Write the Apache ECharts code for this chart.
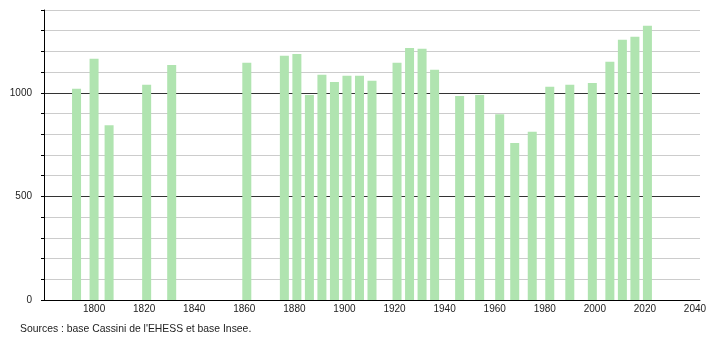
<!DOCTYPE html>
<html>
<head>
<meta charset="utf-8">
<script src="https://cdn.jsdelivr.net/npm/echarts@6/dist/echarts.min.js"></script>
<style>
html,body{margin:0;padding:0;background:#fff;}
#chart{width:710px;height:340px;}
</style>
</head>
<body>
<div id="chart"></div>
<script>
const years = [1793, 1800, 1806, 1821, 1831, 1861, 1876, 1881, 1886, 1891, 1896, 1901, 1906, 1911, 1921, 1926, 1931, 1936, 1946, 1954, 1962, 1968, 1975, 1982, 1990, 1999, 2006, 2011, 2016, 2021];
const population = [1020, 1165, 844, 1039, 1135, 1145, 1179, 1188, 990, 1087, 1053, 1082, 1082, 1058, 1145, 1217, 1213, 1111, 985, 990, 897, 758, 812, 1029, 1039, 1048, 1150, 1256, 1271, 1324];
const yLabels = [0, 500, 1000];
const xLabels = [1800, 1820, 1840, 1860, 1880, 1900, 1920, 1940, 1960, 1980, 2000, 2020, 2040];
const sourceText = "Sources : base Cassini de l'EHESS et base Insee.";

const chart = echarts.init(document.getElementById('chart'), null, {renderer: 'canvas'});
const gridColors = [];
for (let v = 0; v <= 1400; v += 100) {
  gridColors.push(v === 500 || v === 1000 ? '#333333' : '#cccccc');
}
chart.setOption({
  animation: false,
  backgroundColor: '#ffffff',
  textStyle: {fontFamily: 'Liberation Sans, Arial, sans-serif'},
  grid: {left: 44, right: 10, top: 10, bottom: 40, containLabel: false},
  xAxis: {
    type: 'value',
    min: 1780,
    max: 2042,
    interval: 20,
    axisLine: {show: true, lineStyle: {color: '#000', width: 1}},
    axisTick: {show: false},
    splitLine: {show: false},
    axisLabel: {
      color: '#222', fontSize: 10, margin: 4,
      fontFamily: 'Liberation Sans, Arial, sans-serif',
      formatter: function (v) { return xLabels.indexOf(v) >= 0 ? String(v) : ''; }
    }
  },
  yAxis: {
    type: 'value',
    min: 0,
    max: 1400,
    interval: 100,
    axisLine: {show: true, lineStyle: {color: '#000', width: 1}},
    axisTick: {show: true, length: 3, lineStyle: {color: '#000'}},
    splitLine: {show: true, lineStyle: {color: gridColors, width: 1}},
    axisLabel: {
      color: '#222', fontSize: 10, margin: 12,
      fontFamily: 'Liberation Sans, Arial, sans-serif',
      formatter: function (v) { return yLabels.indexOf(v) >= 0 ? String(v) : ''; }
    }
  },
  series: [{
    type: 'bar',
    barWidth: 9,
    itemStyle: {color: '#b0e4b0'},
    data: years.map((y, i) => [y, population[i]])
  }],
  graphic: [{
    type: 'text',
    left: 20,
    top: 324,
    style: {text: sourceText, fill: '#222', font: '10.4px "Liberation Sans", Arial, sans-serif'}
  }]
});
</script>
</body>
</html>
